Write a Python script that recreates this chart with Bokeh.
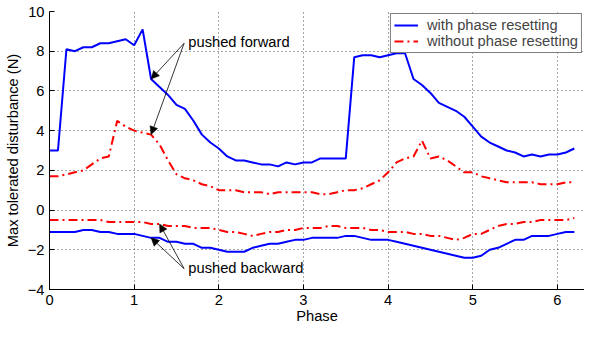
from bokeh.plotting import figure
from bokeh.models import (ColumnDataSource, FixedTicker, Legend, LegendItem, Arrow,
                          NormalHead, Label)
from bokeh.embed import file_html
from bokeh.resources import INLINE

phase = [0.0, 0.1, 0.2, 0.3, 0.4, 0.5, 0.6, 0.7, 0.8, 0.9,
         1.0, 1.1, 1.2, 1.3, 1.4, 1.5, 1.6, 1.7, 1.8, 1.9,
         2.0, 2.1, 2.2, 2.3, 2.4, 2.5, 2.6, 2.7, 2.8, 2.9,
         3.0, 3.1, 3.2, 3.3, 3.4, 3.5, 3.6, 3.7, 3.8, 3.9,
         4.0, 4.1, 4.2, 4.3, 4.4, 4.5, 4.6, 4.7, 4.8, 4.9,
         5.0, 5.1, 5.2, 5.3, 5.4, 5.5, 5.6, 5.7, 5.8, 5.9,
         6.0, 6.1, 6.2]

with_forward = [3.0, 3.0, 8.1, 8.0, 8.2, 8.2, 8.4, 8.4, 8.5, 8.6,
                8.3, 9.1, 6.6, 6.2, 5.8, 5.3, 5.1, 4.5, 3.8, 3.4,
                3.1, 2.7, 2.5, 2.5, 2.4, 2.3, 2.3, 2.2, 2.4, 2.3,
                2.4, 2.4, 2.6, 2.6, 2.6, 2.6, 7.7, 7.8, 7.8, 7.7,
                7.8, 7.9, 7.9, 6.6, 6.3, 5.9, 5.4, 5.2, 5.0, 4.7,
                4.2, 3.7, 3.4, 3.2, 3.0, 2.9, 2.7, 2.8, 2.7, 2.8,
                2.8, 2.9, 3.1]

without_forward = [1.7, 1.7, 1.8, 1.9, 2.0, 2.3, 2.6, 2.7, 4.5, 4.2,
                   4.0, 3.9, 3.8, 3.3, 2.5, 1.8, 1.6, 1.5, 1.3, 1.2,
                   1.0, 1.0, 1.0, 0.9, 0.9, 0.9, 0.8, 0.9, 0.9, 0.9,
                   0.9, 0.9, 0.8, 0.8, 0.9, 1.0, 1.0, 1.1, 1.3, 1.5,
                   1.9, 2.4, 2.6, 2.7, 3.5, 2.6, 2.7, 2.5, 2.2, 1.9,
                   1.9, 1.7, 1.6, 1.5, 1.4, 1.4, 1.4, 1.4, 1.3, 1.3,
                   1.3, 1.4, 1.4]

with_backward = [-1.1, -1.1, -1.1, -1.1, -1.0, -1.0, -1.1, -1.1, -1.2, -1.2,
                 -1.2, -1.3, -1.4, -1.4, -1.6, -1.6, -1.7, -1.7, -1.9, -1.9,
                 -2.0, -2.1, -2.1, -2.1, -1.9, -1.8, -1.7, -1.7, -1.6, -1.5,
                 -1.5, -1.4, -1.4, -1.4, -1.4, -1.3, -1.3, -1.4, -1.5, -1.5,
                 -1.5, -1.6, -1.7, -1.8, -1.9, -2.0, -2.1, -2.2, -2.3, -2.4,
                 -2.4, -2.3, -2.0, -1.9, -1.7, -1.5, -1.5, -1.3, -1.3, -1.3,
                 -1.2, -1.1, -1.1]

without_backward = [-0.5, -0.5, -0.5, -0.5, -0.5, -0.5, -0.5, -0.6, -0.6, -0.6,
                    -0.6, -0.6, -0.7, -0.7, -0.8, -0.8, -0.8, -0.9, -0.9, -0.9,
                    -1.0, -1.1, -1.1, -1.2, -1.3, -1.2, -1.1, -1.1, -1.0, -1.0,
                    -0.9, -0.9, -0.9, -0.8, -0.8, -0.9, -0.9, -0.9, -1.0, -1.0,
                    -1.1, -1.1, -1.1, -1.2, -1.2, -1.3, -1.3, -1.4, -1.5, -1.4,
                    -1.2, -1.2, -1.0, -0.8, -0.7, -0.7, -0.6, -0.6, -0.5, -0.5,
                    -0.5, -0.5, -0.4]

x_ticks = [0, 1, 2, 3, 4, 5, 6]
y_ticks = [-4, -2, 0, 2, 4, 6, 8, 10]
y_tick_labels = {-4: "\u22124", -2: "\u22122", 0: "0", 2: "2", 4: "4", 6: "6", 8: "8", 10: "10"}

series_labels = ["with phase resetting", "without phase resetting"]
annotation_texts = ["pushed forward", "pushed backward"]
# annotation anchor (arrow tail) and text positions in data units
fwd_anchor = (1.59, 8.4)
bwd_anchor = (1.59, -2.95)
fwd_text_pos = (1.64, 8.45)
bwd_text_pos = (1.64, -2.9)
# arrow tips point at data samples (index into phase)
fwd_tip_idx = 12
bwd_tip_idx_with = 12
bwd_tip_idx_without = 13

FONT = "Liberation Sans"
FS = "14.7px"
BLUE = "#0000ff"
RED = "#ff0000"

src = ColumnDataSource(dict(x=phase, wf=with_forward, of=without_forward,
                            wb=with_backward, ob=without_backward))

p = figure(width=584, height=326, output_backend="svg", toolbar_location=None,
           x_range=(0, 6.32), y_range=(-4, 10),
           min_border_left=49, min_border_top=11, min_border_bottom=36, min_border_right=0)
p.outline_line_color = None
p.background_fill_color = "white"
p.border_fill_color = "white"

r1 = p.line("x", "wf", source=src, line_color=BLUE, line_width=2)
p.line("x", "wb", source=src, line_color=BLUE, line_width=2)
r2 = p.line("x", "of", source=src, line_color=RED, line_width=2, line_dash="9 4 2 4")
p.line("x", "ob", source=src, line_color=RED, line_width=2, line_dash="9 4 2 4")

for ax in (p.xaxis[0], p.yaxis[0]):
    ax.major_tick_in = 5
    ax.major_tick_out = 0
    ax.minor_tick_in = 0
    ax.minor_tick_out = 0
    ax.axis_line_color = "black"
    ax.major_tick_line_color = "black"
    ax.major_label_text_font = FONT
    ax.major_label_text_font_size = FS
    ax.major_label_text_color = "black"
    ax.axis_label_text_font = FONT
    ax.axis_label_text_font_size = FS
    ax.axis_label_text_font_style = "normal"
    ax.axis_label_text_color = "black"

p.xaxis.ticker = FixedTicker(ticks=x_ticks)
p.yaxis.ticker = FixedTicker(ticks=y_ticks)
p.yaxis.major_label_overrides = y_tick_labels
p.xaxis.axis_label = "Phase"
p.yaxis.axis_label = "Max tolerated disturbance (N)"
p.xaxis.major_label_standoff = 5
p.xaxis.axis_label_standoff = 0
p.yaxis.major_label_standoff = 5
p.yaxis.axis_label_standoff = 4

for g in (p.xgrid[0], p.ygrid[0]):
    g.grid_line_color = "#222222"
    g.grid_line_dash = "1 3"
    g.grid_line_width = 1
    g.grid_line_alpha = 0.8

legend = Legend(items=[LegendItem(label=series_labels[0], renderers=[r1]),
                       LegendItem(label=series_labels[1], renderers=[r2])],
                location="top_right")
legend.border_line_color = "black"
legend.border_line_width = 1.5
legend.background_fill_color = "white"
legend.background_fill_alpha = 1
legend.label_text_font = FONT
legend.label_text_font_size = FS
legend.glyph_width = 24
legend.glyph_height = 16
legend.label_height = 16
legend.label_standoff = 9
legend.padding = 3
legend.spacing = 0
legend.margin = 2
p.add_layout(legend)

def arrow(x0, y0, x1, y1):
    p.add_layout(Arrow(end=NormalHead(size=8, fill_color="black", line_color="black", line_width=0.5),
                       x_start=x0, y_start=y0, x_end=x1, y_end=y1,
                       line_color="black", line_width=0.8))

arrow(fwd_anchor[0], fwd_anchor[1], phase[fwd_tip_idx], with_forward[fwd_tip_idx])
arrow(fwd_anchor[0], fwd_anchor[1], phase[fwd_tip_idx], without_forward[fwd_tip_idx])
arrow(bwd_anchor[0], bwd_anchor[1], phase[bwd_tip_idx_with], with_backward[bwd_tip_idx_with])
arrow(bwd_anchor[0], bwd_anchor[1], phase[bwd_tip_idx_without], without_backward[bwd_tip_idx_without])

for txt, pos in ((annotation_texts[0], fwd_text_pos), (annotation_texts[1], bwd_text_pos)):
    p.add_layout(Label(x=pos[0], y=pos[1], text=txt, text_font=FONT, text_font_size=FS,
                       text_baseline="middle", text_align="left", text_color="black"))

open("out.html", "w").write(file_html(p, INLINE))
